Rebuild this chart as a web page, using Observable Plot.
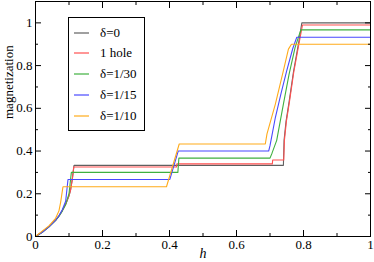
<!DOCTYPE html>
<html><head><meta charset="utf-8">
<script src="https://cdn.jsdelivr.net/npm/d3@7"></script>
<script src="https://cdn.jsdelivr.net/npm/@observablehq/plot@0.6"></script>
<style>
body{margin:0;background:#fff;}
#wrap{position:relative;width:374px;height:262px;font-family:"Liberation Serif","DejaVu Serif",serif;}
#legend{position:absolute;left:68px;top:17px;width:77px;height:114px;border:1px solid #000;background:#fff;box-sizing:border-box;}
.item{position:absolute;left:5px;height:20px;font-size:13px;line-height:20px;white-space:nowrap;display:flex;align-items:center;}
.item svg{margin-right:10px;}
svg text{font-family:"Liberation Serif","DejaVu Serif",serif;}
</style>
</head><body>
<div id="wrap"><div id="legend"></div></div>
<script>
// ---- data ----
const seriesNames = ["δ=0", "1 hole", "δ=1/30", "δ=1/15", "δ=1/10"];
const seriesColors = ["#606060", "#ff5050", "#3fb03f", "#4848ff", "#ffab1a"];

const h0 = [0, 0.02, 0.04, 0.06, 0.07, 0.08, 0.09, 0.10, 0.105, 0.11, 0.115, 0.74, 0.742, 0.748, 0.757, 0.77, 0.787, 0.795, 1];
const m0 = [0, 0.02, 0.045, 0.075, 0.095, 0.12, 0.15, 0.19, 0.22, 0.27, 0.333, 0.333, 0.45, 0.54, 0.63, 0.77, 0.92, 1.0, 1.0];

const hHole = [0, 0.02, 0.04, 0.06, 0.07, 0.08, 0.09, 0.10, 0.105, 0.11, 0.114, 0.421, 0.422, 0.707, 0.708, 0.741, 0.743, 0.749, 0.758, 0.771, 0.788, 0.797, 1];
const mHole = [0, 0.022, 0.047, 0.077, 0.097, 0.122, 0.152, 0.19, 0.22, 0.27, 0.325, 0.325, 0.34, 0.34, 0.358, 0.358, 0.45, 0.54, 0.63, 0.77, 0.915, 0.99, 0.99];

const h30 = [0, 0.02, 0.04, 0.06, 0.07, 0.08, 0.09, 0.10, 0.107, 0.425, 0.428, 0.70, 0.706, 0.72, 0.74, 0.757, 0.775, 0.792, 1];
const m30 = [0, 0.02, 0.045, 0.075, 0.095, 0.12, 0.15, 0.2, 0.30, 0.30, 0.367, 0.367, 0.39, 0.45, 0.62, 0.76, 0.885, 0.967, 0.967];

const h15 = [0, 0.02, 0.04, 0.06, 0.07, 0.08, 0.09, 0.097, 0.401, 0.426, 0.696, 0.70, 0.716, 0.733, 0.75, 0.768, 0.78, 1];
const m15 = [0, 0.02, 0.045, 0.077, 0.097, 0.125, 0.165, 0.267, 0.267, 0.40, 0.40, 0.425, 0.557, 0.67, 0.776, 0.88, 0.933, 0.933];

const h10 = [0, 0.02, 0.04, 0.06, 0.07, 0.075, 0.082, 0.391, 0.429, 0.686, 0.691, 0.716, 0.74, 0.755, 0.764, 1];
const m10 = [0, 0.025, 0.05, 0.085, 0.12, 0.16, 0.233, 0.233, 0.433, 0.433, 0.48, 0.62, 0.776, 0.877, 0.90, 0.90];

const xMajor = [0, 0.2, 0.4, 0.6, 0.8, 1];
const xTickLabels = ["0", "0.2", "0.4", "0.6", "0.8", "1"];
const xMinor = [0.1, 0.3, 0.5, 0.7, 0.9];
const yMajor = [0, 0.2, 0.4, 0.6, 0.8, 1];
const yTickLabels = ["0", "0.2", "0.4", "0.6", "0.8", "1"];
const yMinor = [0.1, 0.3, 0.5, 0.7, 0.9];
const xTitle = "h";
const yTitle = "magnetization";

// ---- build table ----
const hs = [h0, hHole, h30, h15, h10];
const ms = [m0, mHole, m30, m15, m10];
const rows = [];
seriesNames.forEach((name, k) => hs[k].forEach((h, i) => rows.push({series: name, h, m: ms[k][i]})));

const font = "'Liberation Serif', 'DejaVu Serif', serif";
const tickOpts = (extra) => ({fill: "none", tickFormat: () => "", label: null, stroke: "black", ...extra});

const chart = Plot.plot({
  width: 374, height: 262,
  marginLeft: 35, marginRight: 4, marginTop: 1, marginBottom: 26,
  style: {fontFamily: font, fontSize: "13px", background: "white", color: "black"},
  x: {domain: [0, 1], label: null},
  y: {domain: [0, 1.1], label: null},
  color: {domain: seriesNames, range: seriesColors},
  marks: [
    Plot.line(rows, {x: "h", y: "m", z: "series", stroke: "series", strokeWidth: 1.1}),
    Plot.frame({stroke: "black"}),
    // inward major ticks
    Plot.axisX(xMajor, tickOpts({anchor: "bottom", tickSize: 6, dy: -6})),
    Plot.axisX(xMajor, tickOpts({anchor: "top", tickSize: 6, dy: 6})),
    Plot.axisY(yMajor, tickOpts({anchor: "left", tickSize: 6, dx: 6})),
    Plot.axisY(yMajor, tickOpts({anchor: "right", tickSize: 6, dx: -6})),
    // inward minor ticks
    Plot.axisX(xMinor, tickOpts({anchor: "bottom", tickSize: 3, dy: -3})),
    Plot.axisX(xMinor, tickOpts({anchor: "top", tickSize: 3, dy: 3})),
    Plot.axisY(yMinor, tickOpts({anchor: "left", tickSize: 3, dx: 3})),
    Plot.axisY(yMinor, tickOpts({anchor: "right", tickSize: 3, dx: -3})),
    // tick labels
    Plot.axisX(xMajor, {anchor: "bottom", tickSize: 0, tickPadding: 3, fontSize: 13, label: null,
      tickFormat: d => xTickLabels[xMajor.indexOf(d)]}),
    Plot.axisY(yMajor, {anchor: "left", tickSize: 0, tickPadding: 3, fontSize: 13, label: null,
      tickFormat: d => yTickLabels[yMajor.indexOf(d)]}),
    // titles
    Plot.text([xTitle], {text: d => d, frameAnchor: "bottom", dy: 21, fontSize: 14, fontStyle: "italic"}),
    Plot.text([yTitle], {text: d => d, frameAnchor: "left", dx: -27, rotate: -90, fontSize: 13})
  ]
});
const wrap = document.getElementById("wrap");
wrap.insertBefore(chart, wrap.firstChild);

// ---- legend ----
const legend = document.getElementById("legend");
const legendY = [5, 25, 46, 67, 88];
seriesNames.forEach((name, i) => {
  const it = document.createElement("div");
  it.className = "item";
  it.style.top = legendY[i] + "px";
  it.innerHTML = `<svg width="16" height="4"><line x1="0" x2="15" y1="2" y2="2" stroke="${seriesColors[i]}" stroke-width="1.2"/></svg><span></span>`;
  it.querySelector("span").textContent = name;
  legend.appendChild(it);
});
</script>
</body></html>
